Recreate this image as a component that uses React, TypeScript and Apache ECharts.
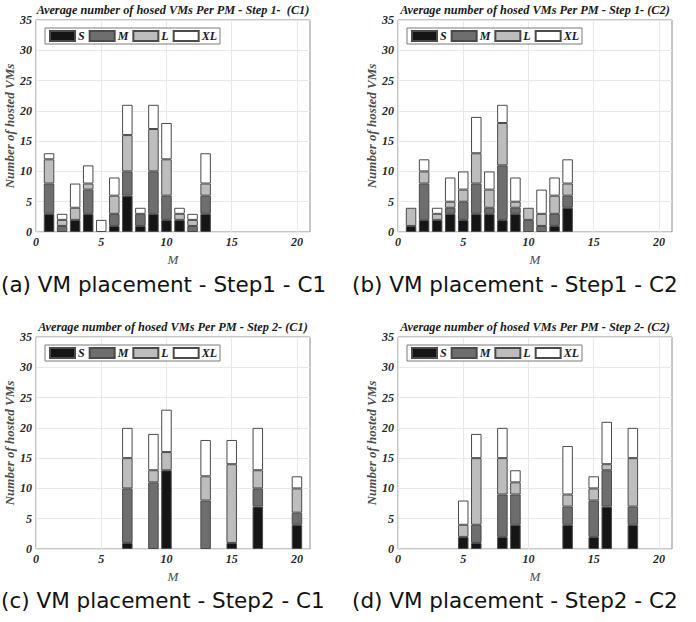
import React, { useEffect, useRef } from "react";
import * as echarts from "echarts";

// Axis categories (M = 0 .. 21)
const mCategories = ["0","1","2","3","4","5","6","7","8","9","10","11","12","13","14","15","16","17","18","19","20","21"];
const sizeNames = ["S", "M", "L", "XL"];
const sizeColors = ["#151515", "#6e6e6e", "#bdbdbd", "#ffffff"];

// (a) Step 1 - C1
const aM = [1, 2, 3, 4, 5, 6, 7, 8, 9, 10, 11, 12, 13];
const aS = [3, 0, 2, 3, 0, 1, 6, 1, 3, 2, 2, 0, 3];
const aMed = [5, 1, 0, 4, 0, 2, 4, 2, 7, 4, 0, 1, 3];
const aL = [4, 1, 2, 1, 0, 3, 6, 0, 7, 6, 1, 1, 2];
const aXL = [1, 1, 4, 3, 2, 3, 5, 1, 4, 6, 1, 1, 5];

// (b) Step 1 - C2
const bM = [1, 2, 3, 4, 5, 6, 7, 8, 9, 10, 11, 12, 13];
const bS = [1, 2, 2, 3, 2, 3, 3, 2, 3, 0, 0, 1, 4];
const bMed = [0, 6, 0, 1, 3, 5, 1, 9, 1, 2, 1, 2, 2];
const bL = [3, 2, 1, 1, 2, 5, 3, 7, 1, 2, 2, 3, 2];
const bXL = [0, 2, 1, 4, 3, 6, 3, 3, 4, 0, 4, 3, 4];

// (c) Step 2 - C1
const cM = [7, 9, 10, 13, 15, 17, 20];
const cS = [1, 0, 13, 0, 1, 7, 4];
const cMed = [9, 11, 0, 8, 0, 3, 2];
const cL = [5, 2, 3, 4, 13, 3, 4];
const cXL = [5, 6, 7, 6, 4, 7, 2];

// (d) Step 2 - C2
const dM = [5, 6, 8, 9, 13, 15, 16, 18];
const dS = [2, 1, 2, 4, 4, 2, 7, 4];
const dMed = [0, 3, 7, 5, 3, 6, 6, 3];
const dL = [2, 11, 6, 2, 2, 2, 1, 8];
const dXL = [4, 4, 5, 2, 8, 2, 7, 5];

const yTicks = [0, 5, 10, 15, 20, 25, 30, 35];

const panelTitles = [
  "Average number of hosed VMs Per PM - Step 1-  (C1)",
  "Average number of hosed VMs Per PM - Step 1- (C2)",
  "Average number of hosed VMs Per PM - Step 2- (C1)",
  "Average number of hosed VMs Per PM - Step 2- (C2)",
];
const captions = [
  "(a) VM placement - Step1 - C1",
  "(b) VM placement - Step1 - C2",
  "(c) VM placement - Step2 - C1",
  "(d) VM placement - Step2 - C2",
];

const panels = [
  { ms: aM, vals: [aS, aMed, aL, aXL] },
  { ms: bM, vals: [bS, bMed, bL, bXL] },
  { ms: cM, vals: [cS, cMed, cL, cXL] },
  { ms: dM, vals: [dS, dMed, dL, dXL] },
];

// layout
const grids = [
  { left: 36, top: 20 },
  { left: 398, top: 20 },
  { left: 36, top: 337 },
  { left: 398, top: 337 },
];
const GW = 274;
const GH = 212;
const captionPos = [
  { x: 1, y: 284 },
  { x: 352, y: 284 },
  { x: 1, y: 600 },
  { x: 352, y: 600 },
];

const serif = "'Liberation Serif', 'DejaVu Serif', serif";

function fullRow(ms: number[], v: number[]) {
  const row: (number | null)[] = mCategories.map(() => null);
  ms.forEach((m, i) => {
    row[m] = v[i] === 0 ? null : v[i];
  });
  return row;
}

export default function App() {
  const ref = useRef<HTMLDivElement>(null);
  useEffect(() => {
    document.body.style.margin = "0";
    if (!ref.current) return;
    const chart = echarts.init(ref.current, undefined, { renderer: "svg" });
    const tickFont = {
      fontFamily: serif,
      fontStyle: "italic" as const,
      fontWeight: "bold" as const,
      fontSize: 12,
      color: "#262626",
    };
    const showEvery5 = (idx: number) => idx % 5 === 0;

    const series: any[] = [];
    panels.forEach((p, pi) => {
      sizeNames.forEach((name, k) => {
        series.push({
          type: "bar",
          name,
          xAxisIndex: pi,
          yAxisIndex: pi,
          stack: "p" + pi,
          barWidth: 10.5,
          data: fullRow(p.ms, p.vals[k]),
          itemStyle: { color: sizeColors[k], borderColor: "#4a4a4a", borderWidth: 1 },
          emphasis: { disabled: true },
        });
      });
    });

    const graphics: any[] = [];
    grids.forEach((g, i) => {
      graphics.push({
        type: "text",
        x: g.left + GW / 2,
        y: g.top - 10,
        style: {
          text: panelTitles[i],
          fontFamily: serif,
          fontStyle: "italic",
          fontWeight: "bold",
          fontSize: 12.3,
          fill: "#1a1a1a",
          align: "center",
          verticalAlign: "middle",
        },
      });
      graphics.push({
        type: "text",
        x: captionPos[i].x,
        y: captionPos[i].y,
        style: {
          text: captions[i],
          fontFamily: "'DejaVu Sans', sans-serif",
          fontSize: 21.5,
          fill: "#111",
          align: "left",
          verticalAlign: "middle",
        },
      });
    });

    chart.setOption({
      animation: false,
      backgroundColor: "#ffffff",
      grid: grids.map((g) => ({
        left: g.left,
        top: g.top,
        width: GW,
        height: GH,
        show: true,
        borderColor: "#8c8c8c",
        borderWidth: 1,
        backgroundColor: "transparent",
      })),
      legend: grids.map((g) => ({
        data: sizeNames,
        left: g.left + 9,
        top: g.top + 8,
        orient: "horizontal",
        icon: "rect",
        itemWidth: 25,
        itemHeight: 10,
        itemGap: 4,
        padding: [2, 3, 2, 4],
        borderColor: "#7a7a7a",
        borderWidth: 1,
        backgroundColor: "#ffffff",
        selectedMode: false,
        textStyle: { ...tickFont, fontSize: 12, color: "#1a1a1a", padding: [0, 0, 0, -2] },
      })),
      xAxis: grids.map((_, i) => ({
        type: "category",
        gridIndex: i,
        data: mCategories,
        boundaryGap: false,
        axisLine: { show: false },
        axisTick: { show: false },
        axisLabel: { ...tickFont, margin: 4, interval: showEvery5 },
        splitLine: { show: true, interval: showEvery5, lineStyle: { color: "#e8e8e8", width: 1 } },
        name: "M",
        nameLocation: "middle",
        nameGap: 21,
        nameTextStyle: { fontFamily: serif, fontStyle: "italic", fontSize: 13, color: "#4d4d4d" },
      })),
      yAxis: grids.map((_, i) => ({
        type: "value",
        gridIndex: i,
        min: yTicks[0],
        max: yTicks[yTicks.length - 1],
        interval: 5,
        axisLine: { show: false },
        axisTick: { show: false },
        axisLabel: { ...tickFont, margin: 4 },
        splitLine: { show: true, lineStyle: { color: "#e8e8e8", width: 1 } },
        name: "Number of hosted VMs",
        nameLocation: "middle",
        nameGap: 18,
        nameTextStyle: {
          fontFamily: serif,
          fontStyle: "italic",
          fontWeight: "bold",
          fontSize: 13,
          color: "#4d4d4d",
        },
      })),
      series,
      graphic: graphics,
    });
    return () => chart.dispose();
  }, []);
  return <div ref={ref} style={{ width: 696, height: 622 }} />;
}
